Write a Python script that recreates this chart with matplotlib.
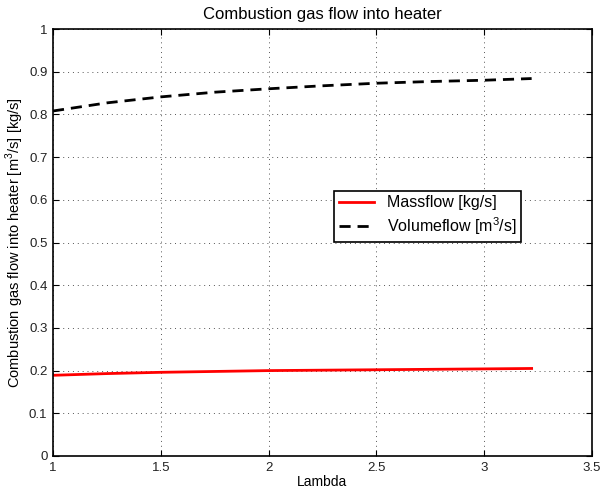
import numpy as np
import matplotlib
matplotlib.use("Agg")
import matplotlib.pyplot as plt

plt.rcParams['font.family'] = ['Liberation Sans', 'DejaVu Sans']
plt.rcParams['mathtext.fontset'] = 'custom'
plt.rcParams['mathtext.rm'] = 'Liberation Sans'

## data
lam = [1.0, 1.25, 1.5, 1.75, 2.0, 2.25, 2.5, 2.75, 3.0, 3.22]
massflow = [0.189, 0.193, 0.196, 0.198, 0.200, 0.201, 0.202, 0.203, 0.204, 0.205]
volumeflow = [0.808, 0.827, 0.841, 0.852, 0.860, 0.867, 0.873, 0.877, 0.880, 0.884]

xticks = [1, 1.5, 2, 2.5, 3, 3.5]
yticks = [0, 0.1, 0.2, 0.3, 0.4, 0.5, 0.6, 0.7, 0.8, 0.9, 1]

## plot
fig = plt.figure(figsize=(6, 4.92), dpi=100)
ax = fig.add_axes([53/600, 1 - 456/492, 539/600, 427/492])

ax.plot(lam, massflow, color='red', lw=2, label='Massflow [kg/s]')
ax.plot(lam, volumeflow, color='black', lw=2, ls=(0, (4, 2.5)), label='Volumeflow [m$^3$/s]')

ax.set_xlim(1, 3.5)
ax.set_ylim(0, 1)
ax.set_xticks(xticks)
ax.set_xticklabels(['1', '1.5', '2', '2.5', '3', '3.5'])
ax.set_yticks(yticks)
ax.set_yticklabels(['0', '0.1', '0.2', '0.3', '0.4', '0.5', '0.6', '0.7', '0.8', '0.9', '1'])
ax.tick_params(direction='in', top=True, right=True, labelsize=9.5, length=4, pad=4,
               labelcolor='#222222')
ax.grid(True, ls=(0, (1, 4)), color='#555555', lw=0.7)
for sp in ax.spines.values():
    sp.set_linewidth(1.2)

ax.set_title('Combustion gas flow into heater', fontsize=12, pad=7)
ax.set_xlabel('Lambda', fontsize=10, labelpad=1)
ax.set_ylabel('Combustion gas flow into heater [m$^3$/s] [kg/s]', fontsize=10.5)
ax.yaxis.set_label_coords(-0.05, 0.5)

leg = ax.legend(loc='upper left', bbox_to_anchor=(0.507, 0.64), fontsize=11.5,
                frameon=True, fancybox=False, edgecolor='black', framealpha=1,
                handlelength=2.2, borderpad=0.3, labelspacing=0.3)
leg.get_frame().set_linewidth(1.2)

plt.savefig('out.png', dpi=100)
